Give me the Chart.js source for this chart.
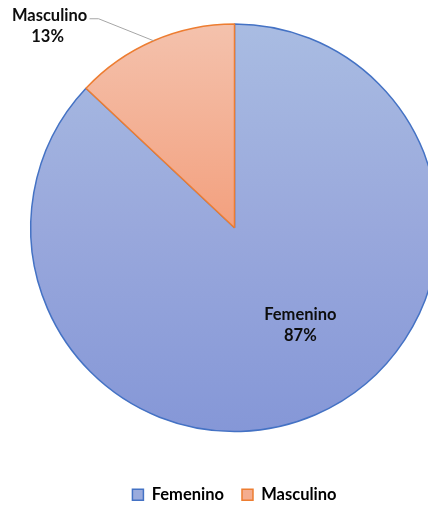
<!DOCTYPE html>
<html lang="es">
<head>
<meta charset="UTF-8">
<title>Femenino / Masculino</title>
<script src="https://cdn.jsdelivr.net/npm/chart.js"></script>
<style>
  html, body { margin: 0; padding: 0; background: #ffffff; overflow: hidden; }
  body { width: 428px; height: 506px; position: relative; }
  /* the pie is wider than the window in the original, so the box overflows on the right */
  .wrap { position: absolute; left: 0; top: -13px; width: 469px; height: 526px; }
</style>
</head>
<body>
<div class="wrap"><canvas id="pie"></canvas></div>
<script>
// data
const labels = ['Femenino', 'Masculino'];
const values = [87, 13];
const percentLabels = ['87%', '13%'];

const borderColors = ['#4472c4', '#ed7d31'];
const legendFill = ['#9aabdd', '#f4ad8f'];

// vertical gradient per slice, like the Excel fill
function sliceFill(context) {
  const chart = context.chart;
  const a = chart.chartArea;
  const i = context.dataIndex;
  if (!a) return legendFill[i];
  const cy = (a.top + a.bottom) / 2;
  const r = Math.min(a.width, a.height) / 2;
  const ctx = chart.ctx;
  if (i === 0) {
    const g = ctx.createLinearGradient(0, cy - r, 0, cy + r);
    g.addColorStop(0, '#a9bce2');
    g.addColorStop(0.5, '#99a8dc');
    g.addColorStop(1, '#8597d7');
    return g;
  }
  const g = ctx.createLinearGradient(0, cy - r, 0, cy);
  g.addColorStop(0, '#f4c2ad');
  g.addColorStop(1, '#f3a07e');
  return g;
}

// slice labels: one inside, one outside with a leader line
const sliceLabels = {
  id: 'sliceLabels',
  afterDatasetsDraw(chart) {
    const ctx = chart.ctx;
    const arcs = chart.getDatasetMeta(0).data;
    ctx.save();
    ctx.font = 'bold 16.5px Lato';
    ctx.fillStyle = '#0d0d0d';
    ctx.textAlign = 'center';
    ctx.textBaseline = 'middle';

    // Femenino, inside
    let p = arcs[0].getProps(['x', 'y', 'startAngle', 'endAngle', 'outerRadius'], true);
    let mid = (p.startAngle + p.endAngle) / 2 - 10.8 * Math.PI / 180;
    let lx = p.x + Math.cos(mid) * p.outerRadius * 0.575;
    let ly = p.y + Math.sin(mid) * p.outerRadius * 0.575;
    ctx.fillText(labels[0], lx, ly - 10);
    ctx.fillText(percentLabels[0], lx, ly + 11);

    // Masculino, outside
    p = arcs[1].getProps(['x', 'y', 'startAngle', 'endAngle', 'outerRadius'], true);
    mid = (p.startAngle + p.endAngle) / 2;
    const ex = p.x + Math.cos(mid) * p.outerRadius;
    const ey = p.y + Math.sin(mid) * p.outerRadius;
    const kx = ex - 55, ky = ey - 22;
    ctx.strokeStyle = '#a6a6a6';
    ctx.lineWidth = 1;
    ctx.beginPath();
    ctx.moveTo(ex, ey);
    ctx.lineTo(kx, ky);
    ctx.lineTo(kx - 9, ky);
    ctx.stroke();
    ctx.fillText(labels[1], kx - 49, ky - 3);
    ctx.fillText(percentLabels[1], kx - 51, ky + 18);
    ctx.restore();
  }
};

new Chart(document.getElementById('pie'), {
  type: 'pie',
  data: {
    labels: labels,
    datasets: [{
      data: values,
      backgroundColor: sliceFill,
      borderColor: borderColors,
      borderWidth: 1.5
    }]
  },
  options: {
    responsive: true,
    maintainAspectRatio: false,
    animation: false,
    layout: { padding: { left: 30, right: 30, top: 0, bottom: 0 } },
    plugins: {
      tooltip: { enabled: false },
      legend: {
        position: 'bottom',
        labels: {
          boxWidth: 11,
          boxHeight: 11,
          padding: 18,
          color: '#595959',
          font: { family: 'Lato', size: 16.5, weight: 'bold' },
          generateLabels: (chart) => labels.map((t, i) => ({
            text: t,
            fillStyle: legendFill[i],
            strokeStyle: borderColors[i],
            lineWidth: 1.5,
            index: i,
            hidden: false
          }))
        }
      }
    }
  },
  plugins: [sliceLabels]
});
</script>
</body>
</html>
